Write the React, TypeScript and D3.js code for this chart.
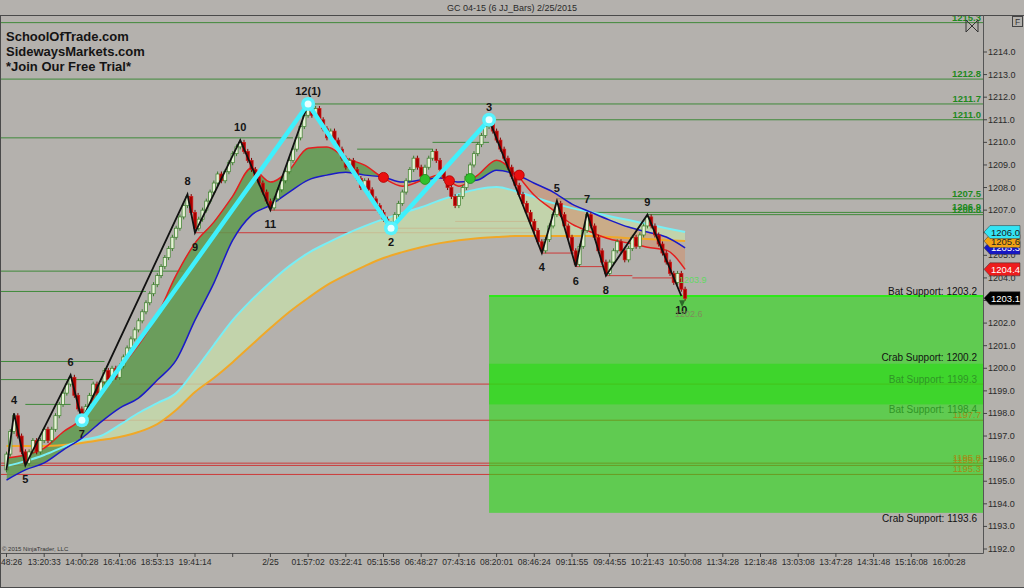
import React, { useEffect } from 'react';
import * as d3 from 'd3';

// ---------------- data ----------------
const titleText = 'GC 04-15 (6 JJ_Bars)  2/25/2015';
const brandLines = ['SchoolOfTrade.com', 'SidewaysMarkets.com', '*Join Our Free Trial*'];
const copyrightText = '\u00A9 2015 NinjaTrader, LLC';

const timeTickIndex = [0, 10, 20, 30, 40, 50, 60, 70, 80, 90, 100, 110, 120, 130, 140, 150, 160, 170, 180, 190, 200, 210, 220, 230, 240, 250];
const timeTickLabels = ['48:26', '13:20:33', '14:00:28', '16:41:06', '18:53:13', '19:41:14', '', '2/25', '01:57:02', '03:22:41', '05:15:58', '06:48:27', '07:43:16', '08:20:01', '08:46:24', '09:11:55', '09:44:55', '10:21:43', '10:50:08', '11:34:28', '12:18:48', '13:03:08', '13:47:28', '14:31:48', '15:16:08', '16:00:28'];

const priceTicks = [1192, 1193, 1194, 1195, 1196, 1197, 1198, 1199, 1200, 1201, 1202, 1203, 1204, 1205, 1206, 1207, 1208, 1209, 1210, 1211, 1212, 1213, 1214];

const firstOpen = 1195.5;
const barCloses = [
  1196.2, 1197.2, 1197.9, 1197.0, 1196.3, 1195.8, 1196.3, 1196.8, 1196.3, 1196.8,
  1197.3, 1196.8, 1197.3, 1197.9, 1198.4, 1198.9, 1199.3, 1199.6, 1198.8, 1198.2,
  1197.8, 1198.3, 1198.8, 1199.3, 1198.9, 1199.4, 1199.9, 1199.5, 1200.0, 1199.6,
  1200.1, 1200.5, 1200.9, 1201.3, 1201.7, 1202.1, 1202.5, 1202.9, 1203.3, 1203.7,
  1204.1, 1204.5, 1204.9, 1205.3, 1205.8, 1206.2, 1206.7, 1207.2, 1207.6, 1206.9,
  1206.2, 1206.6, 1207.0, 1207.4, 1207.8, 1208.2, 1208.6, 1208.3, 1208.7, 1209.1,
  1209.5, 1209.8, 1210.0, 1209.6, 1209.2, 1208.8, 1208.5, 1208.2, 1207.8, 1207.4,
  1207.1, 1207.5, 1207.9, 1208.3, 1208.7, 1209.2, 1209.7, 1210.2, 1210.7, 1211.2,
  1211.6, 1211.2, 1211.5, 1211.0, 1210.6, 1210.2, 1210.5, 1210.1, 1209.7, 1209.3,
  1208.9, 1209.2, 1208.8, 1208.4, 1208.0, 1208.3, 1207.9, 1207.5, 1207.2, 1206.9,
  1206.6, 1206.4, 1206.3, 1206.8, 1207.3, 1207.8, 1208.3, 1208.8, 1209.3, 1208.9,
  1208.5, 1208.9, 1209.3, 1209.6, 1209.2, 1208.8, 1208.4, 1208.0, 1207.6, 1207.2,
  1207.6, 1208.0, 1208.5, 1209.0, 1209.5, 1209.9, 1210.3, 1210.7, 1210.9, 1210.5,
  1210.1, 1209.7, 1209.3, 1208.9, 1208.5, 1208.1, 1207.7, 1207.3, 1206.9, 1206.5,
  1206.1, 1205.6, 1205.2, 1205.7, 1206.3, 1206.8, 1207.3, 1206.8, 1206.3, 1205.8,
  1205.2, 1204.6, 1205.4, 1206.1, 1206.8, 1206.3, 1205.8, 1205.2, 1204.7, 1204.2,
  1204.7, 1205.2, 1205.6, 1205.2, 1204.8, 1205.3, 1205.8, 1205.4, 1205.9, 1206.3,
  1206.7, 1206.3, 1205.9, 1205.5, 1205.1, 1204.7, 1204.2, 1203.8, 1204.2, 1203.5,
  1203.1,
];

const pivotIndex = [0, 2, 5, 17, 20, 48, 50, 62, 70, 80, 102, 128, 142, 146, 151, 154, 159, 170, 179];
const pivotValue = [1195.5, 1198.0, 1195.7, 1199.7, 1197.7, 1207.7, 1206.0, 1210.1, 1207.0, 1211.7, 1206.2, 1211.0, 1205.1, 1207.4, 1204.5, 1206.9, 1204.1, 1206.8, 1203.2];
const pivotLabel = ['', '4', '5', '6', '7', '8', '9', '10', '11', '12(1)', '2', '3', '4', '5', '6', '7', '8', '9', '10'];

const patternIndex = [20, 80, 102, 128];
const patternValue = [1197.7, 1211.7, 1206.2, 1211.0];

const maIndex = [0, 5, 10, 15, 20, 25, 30, 35, 40, 45, 50, 55, 60, 65, 70, 75, 80, 85, 90, 95, 100, 105, 110, 115, 120, 125, 130, 135, 140, 145, 150, 155, 160, 165, 170, 175, 180];
const redMA = [1196.03, 1196.16, 1196.47, 1197.18, 1197.80, 1199.26, 1200.01, 1201.03, 1202.35, 1204.12, 1205.54, 1206.47, 1207.62, 1208.86, 1208.24, 1208.77, 1209.74, 1209.79, 1209.30, 1208.99, 1208.42, 1208.06, 1208.30, 1208.55, 1208.06, 1208.55, 1209.21, 1208.62, 1207.66, 1207.00, 1206.38, 1206.03, 1205.72, 1205.54, 1205.36, 1205.23, 1204.38];
const blueMA = [1195.05, 1195.50, 1195.81, 1196.38, 1196.91, 1197.62, 1198.24, 1198.68, 1199.48, 1200.36, 1202.13, 1203.77, 1205.67, 1206.78, 1207.22, 1207.80, 1208.33, 1208.55, 1208.68, 1208.55, 1208.46, 1208.24, 1208.33, 1208.42, 1208.24, 1208.33, 1208.77, 1208.59, 1208.19, 1207.80, 1207.27, 1206.91, 1206.56, 1206.25, 1206.03, 1205.81, 1205.33];
const cyanMA = [1195.67, 1195.89, 1196.16, 1196.51, 1196.82, 1197.00, 1197.49, 1198.02, 1198.46, 1198.90, 1199.92, 1201.03, 1202.13, 1203.02, 1203.81, 1204.52, 1205.10, 1205.54, 1205.94, 1206.29, 1206.60, 1206.87, 1207.13, 1207.44, 1207.71, 1207.93, 1208.02, 1207.84, 1207.58, 1207.31, 1207.09, 1206.91, 1206.73, 1206.56, 1206.38, 1206.20, 1206.03];
const orangeMA = [1196.56, 1196.56, 1196.56, 1196.60, 1196.69, 1196.82, 1196.96, 1197.18, 1197.53, 1198.15, 1198.95, 1199.57, 1200.27, 1201.03, 1201.78, 1202.49, 1203.11, 1203.68, 1204.12, 1204.52, 1204.88, 1205.14, 1205.36, 1205.54, 1205.67, 1205.76, 1205.81, 1205.85, 1205.85, 1205.85, 1205.85, 1205.85, 1205.81, 1205.76, 1205.72, 1205.67, 1205.63];

const crossIndex = [100, 111, 117.5, 123, 136];
const crossValue = [1208.45, 1208.36, 1208.3, 1208.4, 1208.55];
const crossUp = [false, true, false, true, false];

// resistance (green) levels: value, from-bar, to-bar (null = to the price axis), labelled
const resistValue = [1215.3, 1212.8, 1211.7, 1211.0, 1207.5, 1206.9, 1206.8, 1210.2, 1204.3, 1203.4, 1200.3, 1199.5, 1198.4, 1209.7, 1210.0];
const resistFrom = [-2, -2, 80, 128, 146, 154, 170, -2, -2, -2, -2, -2, 5, 93, 113];
const resistTo = [null, null, null, null, null, null, null, 76, 47, 37, 26, 23, 17, 113, 128];
const resistLabelled = [true, true, true, true, true, true, true, false, false, false, false, false, false, false, false];

// support (red) levels
const supportValue = [1207.0, 1206.0, 1206.2, 1206.5, 1205.1, 1204.5, 1204.1, 1204.0, 1199.3, 1197.7, 1195.8, 1195.7, 1195.3];
const supportFrom = [70, 50, 102, 119, 142, 151, 159, 166, 30, 20, -2, -2, -2];
const supportTo = [100, 141, 141, 141, 151, 159, 166, 179, null, null, null, null, null];
const supportLabelled = [false, false, false, false, false, false, false, false, false, true, true, true, true];

// harmonic PRZ zones
const zoneStart = 128;
const zoneTop = [1203.2, 1200.2];
const zoneBottom = [1198.4, 1193.6];
const przName = ['Bat', 'Crab', 'Bat', 'Bat', 'Crab'];
const przValue = [1203.2, 1200.2, 1199.3, 1198.4, 1193.6];
const przBelow = [false, false, false, true, true];
const przFaint = [false, false, true, true, false];

const lastNoteValue = [1203.9, 1202.6];

// ---------------- chart ----------------
const FONT = '"Liberation Sans", Arial, Helvetica, sans-serif';
const W = 1024;
const H = 588;
const AX = 983;
const TOP = 16;
const BOT = 553;
const BG = '#b4b1ad';

export default function App() {
  useEffect(() => {
    document.body.style.margin = '0';
  }, []);

  const x = d3.scaleLinear().domain([0, 250]).range([6.5, 949]);
  const y = d3.scaleLinear().domain([1192, 1214]).range([549, 52]);

  const maLine = d3
    .line<number>()
    .x((_, k) => x(maIndex[k]))
    .y((d) => y(d))
    .curve(d3.curveMonotoneX);

  const between = (a: number[], b: number[]) =>
    d3
      .area<number>()
      .x((_, k) => x(maIndex[k]))
      .y0((_, k) => y(b[k]))
      .y1((d) => y(d))
      .curve(d3.curveMonotoneX)(a) || '';

  const halfPlane = (b: number[], edge: number) =>
    d3
      .area<number>()
      .x((_, k) => x(maIndex[k]))
      .y0(edge)
      .y1((d) => y(d))
      .curve(d3.curveMonotoneX)(b) || '';

  const zig = d3
    .line<number>()
    .x((_, k) => x(pivotIndex[k]))
    .y((d) => y(d))(pivotValue) || '';

  const pattern = d3
    .line<number>()
    .x((_, k) => x(patternIndex[k]))
    .y((d) => y(d))(patternValue) || '';

  const last = maIndex.length - 1;
  const tags = [
    { v: redMA[last], fill: '#ee1c1c', color: '#ffffff' },
    { v: blueMA[last], fill: '#1616c4', color: '#ffffff' },
    { v: orangeMA[last], fill: '#f2a312', color: '#222222' },
    { v: cyanMA[last], fill: '#34e4f4', color: '#1a1a1a' },
    { v: barCloses[barCloses.length - 1], fill: '#000000', color: '#ffffff' },
  ];

  const lineEnd = (to: number | null) => (to === null ? AX : x(to));
  const zx0 = x(zoneStart);
  const lastX = x(barCloses.length - 1);

  return (
    <div style={{ position: 'fixed', left: 0, top: 0, width: W, height: H }}>
      <svg width={W} height={H} viewBox={`0 0 ${W} ${H}`} style={{ display: 'block', fontFamily: FONT }}>
        <defs>
          <clipPath id="plot">
            <rect x={1} y={TOP} width={AX - 1} height={BOT - TOP} />
          </clipPath>
          <clipPath id="aboveBlue">
            <path d={halfPlane(blueMA, 0)} />
          </clipPath>
          <clipPath id="belowBlue">
            <path d={halfPlane(blueMA, H)} />
          </clipPath>
          <clipPath id="aboveOrange">
            <path d={halfPlane(orangeMA, 0)} />
          </clipPath>
          <clipPath id="belowOrange">
            <path d={halfPlane(orangeMA, H)} />
          </clipPath>
        </defs>

        <rect x={0} y={0} width={W} height={H} fill={BG} />

        {/* title */}
        <text x={447} y={11} fontSize={9} fill="#2a2a2a">
          {titleText}
        </text>

        <g clipPath="url(#plot)">
          {/* level lines */}
          {resistValue.map((v, k) => (
            <line key={`r${k}`} x1={x(resistFrom[k])} x2={lineEnd(resistTo[k])} y1={y(v)} y2={y(v)} stroke="#3f8a3a" strokeWidth={1} />
          ))}
          {supportValue.map((v, k) => (
            <line key={`s${k}`} x1={x(supportFrom[k])} x2={lineEnd(supportTo[k])} y1={y(v)} y2={y(v)} stroke="#cc3a3a" strokeWidth={1} />
          ))}

          {/* PRZ zones */}
          {zoneTop.map((t, k) => (
            <rect key={`z${k}`} x={zx0} y={y(t)} width={AX - zx0} height={y(zoneBottom[k]) - y(t)} fill="#28dc14" fillOpacity={0.6} />
          ))}
          <line x1={zx0} x2={AX} y1={y(zoneTop[0])} y2={y(zoneTop[0])} stroke="#2ee81a" strokeWidth={2} />

          {/* MA ribbons */}
          <path d={between(cyanMA, orangeMA)} fill="#c6dcaa" fillOpacity={0.8} clipPath="url(#aboveOrange)" />
          <path d={between(cyanMA, orangeMA)} fill="#e4aca0" fillOpacity={0.6} clipPath="url(#belowOrange)" />
          <path d={between(redMA, blueMA)} fill="#5e9a4e" fillOpacity={0.85} clipPath="url(#aboveBlue)" />
          <path d={between(redMA, blueMA)} fill="#cf9272" fillOpacity={0.6} clipPath="url(#belowBlue)" />

          <path d={maLine(orangeMA) || ''} fill="none" stroke="#f0a828" strokeWidth={2} />
          <path d={maLine(cyanMA) || ''} fill="none" stroke="#78eef4" strokeWidth={2} />
          <path d={maLine(blueMA) || ''} fill="none" stroke="#1a1ac8" strokeWidth={1.5} />
          <path d={maLine(redMA) || ''} fill="none" stroke="#e41e1e" strokeWidth={1.5} />

          {/* JJ bars */}
          {barCloses.map((c, i) => {
            const o = i === 0 ? firstOpen : barCloses[i - 1];
            const up = c >= o;
            const yt = y(Math.max(o, c));
            const yb = y(Math.min(o, c));
            const cx = x(i);
            return (
              <g key={`b${i}`}>
                <line x1={cx} x2={cx} y1={yt - 2.5} y2={yb + 2.5} stroke={up ? '#3a7f2a' : '#7a0000'} strokeWidth={1} />
                <rect x={cx - 1.6} y={yt} width={3.2} height={Math.max(1, yb - yt)} fill={up ? '#e6f2d6' : '#a80000'} stroke={up ? '#3a7f2a' : '#d41818'} strokeWidth={0.7} />
              </g>
            );
          })}

          {/* zigzag */}
          <path d={zig} fill="none" stroke="#111111" strokeWidth={1.8} />

          {/* harmonic pattern */}
          <path d={pattern} fill="none" stroke="#3ff0fc" strokeWidth={4.5} strokeLinejoin="round" />
          {patternValue.map((v, k) => (
            <g key={`p${k}`}>
              <circle cx={x(patternIndex[k])} cy={y(v)} r={7} fill="#58f2fc" />
              <circle cx={x(patternIndex[k])} cy={y(v)} r={3.5} fill="#eaffff" />
            </g>
          ))}

          {/* crossover dots */}
          {crossValue.map((v, k) => (
            <circle key={`c${k}`} cx={x(crossIndex[k])} cy={y(v)} r={5} fill={crossUp[k] ? '#30c02c' : '#ea1010'} stroke={crossUp[k] ? '#1f8a1c' : '#b00000'} strokeWidth={0.8} />
          ))}

          {/* pivot labels */}
          {pivotLabel.map((t, k) => {
            if (!t) return null;
            const high = pivotValue[k] > pivotValue[k - 1];
            return (
              <text key={`l${k}`} x={x(pivotIndex[k])} y={y(pivotValue[k]) + (high ? -9 : 18)} textAnchor="middle" fontSize={11} fontWeight="bold" fill="#151515">
                {t}
              </text>
            );
          })}

          {/* end-of-chart marker and notes */}
          <path d={`M${lastX - 6},${y(barCloses[barCloses.length - 1]) + 2} l6,0 l-3,7 z`} fill="#2c6a28" />
          <text x={lastX - 6} y={y(lastNoteValue[0]) + 3} fontSize={9} fill="#62d862">
            {lastNoteValue[0].toFixed(1)}
          </text>
          <text x={lastX - 10} y={y(lastNoteValue[1]) + 7} fontSize={9} fill="#7f8d5c">
            {lastNoteValue[1].toFixed(1)}
          </text>

          {/* level labels */}
          {resistValue.map((v, k) =>
            resistLabelled[k] ? (
              <text key={`rl${k}`} x={AX - 2} y={y(v) - 2} textAnchor="end" fontSize={9.5} fontWeight="bold" fill="#1e8a1e">
                {v.toFixed(1)}
              </text>
            ) : null
          )}
          {supportValue.map((v, k) =>
            supportLabelled[k] ? (
              <text key={`sl${k}`} x={AX - 2} y={y(v) - 2} textAnchor="end" fontSize={9.5} fill="#a48c18">
                {v.toFixed(1)}
              </text>
            ) : null
          )}

          {/* PRZ labels */}
          {przValue.map((v, k) => (
            <text key={`pz${k}`} x={AX - 6} y={przBelow[k] ? y(v) + 9 : y(v) - (k === 1 ? 3 : 1)} textAnchor="end" fontSize={10} fill={przFaint[k] ? '#2f9626' : '#121212'}>
              {`${przName[k]} Support: ${v.toFixed(1)}`}
            </text>
          ))}
        </g>

        {/* brand text */}
        {brandLines.map((t, k) => (
          <text key={`t${k}`} x={6} y={41 + k * 15} fontSize={13} fontWeight="bold" fill="#141414">
            {t}
          </text>
        ))}

        {/* frame */}
        <line x1={0} x2={W} y1={15.5} y2={15.5} stroke="#4a4a4a" strokeWidth={1} />
        <line x1={0.5} x2={0.5} y1={15} y2={H} stroke="#4a4a4a" strokeWidth={1} />
        <line x1={0} x2={W} y1={H - 0.5} y2={H - 0.5} stroke="#4a4a4a" strokeWidth={1} />
        <line x1={AX + 0.5} x2={AX + 0.5} y1={15} y2={BOT + 0.5} stroke="#555" strokeWidth={1} />
        <line x1={0} x2={AX + 0.5} y1={BOT + 0.5} y2={BOT + 0.5} stroke="#555" strokeWidth={1} />

        {/* price axis */}
        {priceTicks.map((v) => (
          <g key={`pt${v}`}>
            <line x1={AX} x2={AX + 4} y1={y(v)} y2={y(v)} stroke="#444" />
            <text x={AX + 5} y={y(v)} dominantBaseline="central" fontSize={9} fill="#2a2a2a">
              {v.toFixed(1)}
            </text>
          </g>
        ))}

        {/* price tags */}
        {tags.map((t, k) => {
          const ty = y(t.v);
          return (
            <g key={`tag${k}`}>
              <polygon points={`${AX + 1},${ty} ${AX + 7},${ty - 6.5} ${1020},${ty - 6.5} ${1020},${ty + 6.5} ${AX + 7},${ty + 6.5}`} fill={t.fill} stroke="#333" strokeWidth={0.5} />
              <text x={AX + 8} y={ty} dominantBaseline="central" fontSize={9.5} fill={t.color}>
                {t.v.toFixed(1)}
              </text>
            </g>
          );
        })}

        {/* time axis */}
        {timeTickIndex.map((i, k) => (
          <g key={`tt${i}`}>
            <line x1={x(i)} x2={x(i)} y1={BOT} y2={BOT + 4} stroke="#444" />
            <text x={k === 0 ? 1 : x(i)} y={565} textAnchor={k === 0 ? 'start' : 'middle'} fontSize={8.5} fill="#2a2a2a">
              {timeTickLabels[k]}
            </text>
          </g>
        ))}

        <text x={2} y={551} fontSize={6} fill="#333">
          {copyrightText}
        </text>

        {/* top-right widgets */}
        <path d="M966,20 L972,26 L966,32 Z M978,20 L972,26 L978,32 Z" fill="none" stroke="#333" strokeWidth={1} />
        <rect x={1012.5} y={16.5} width={10} height={10} fill="none" stroke="#444" />
        <text x={1017.5} y={24.5} textAnchor="middle" fontSize={8.5} fill="#333">
          F
        </text>
      </svg>
    </div>
  );
}
